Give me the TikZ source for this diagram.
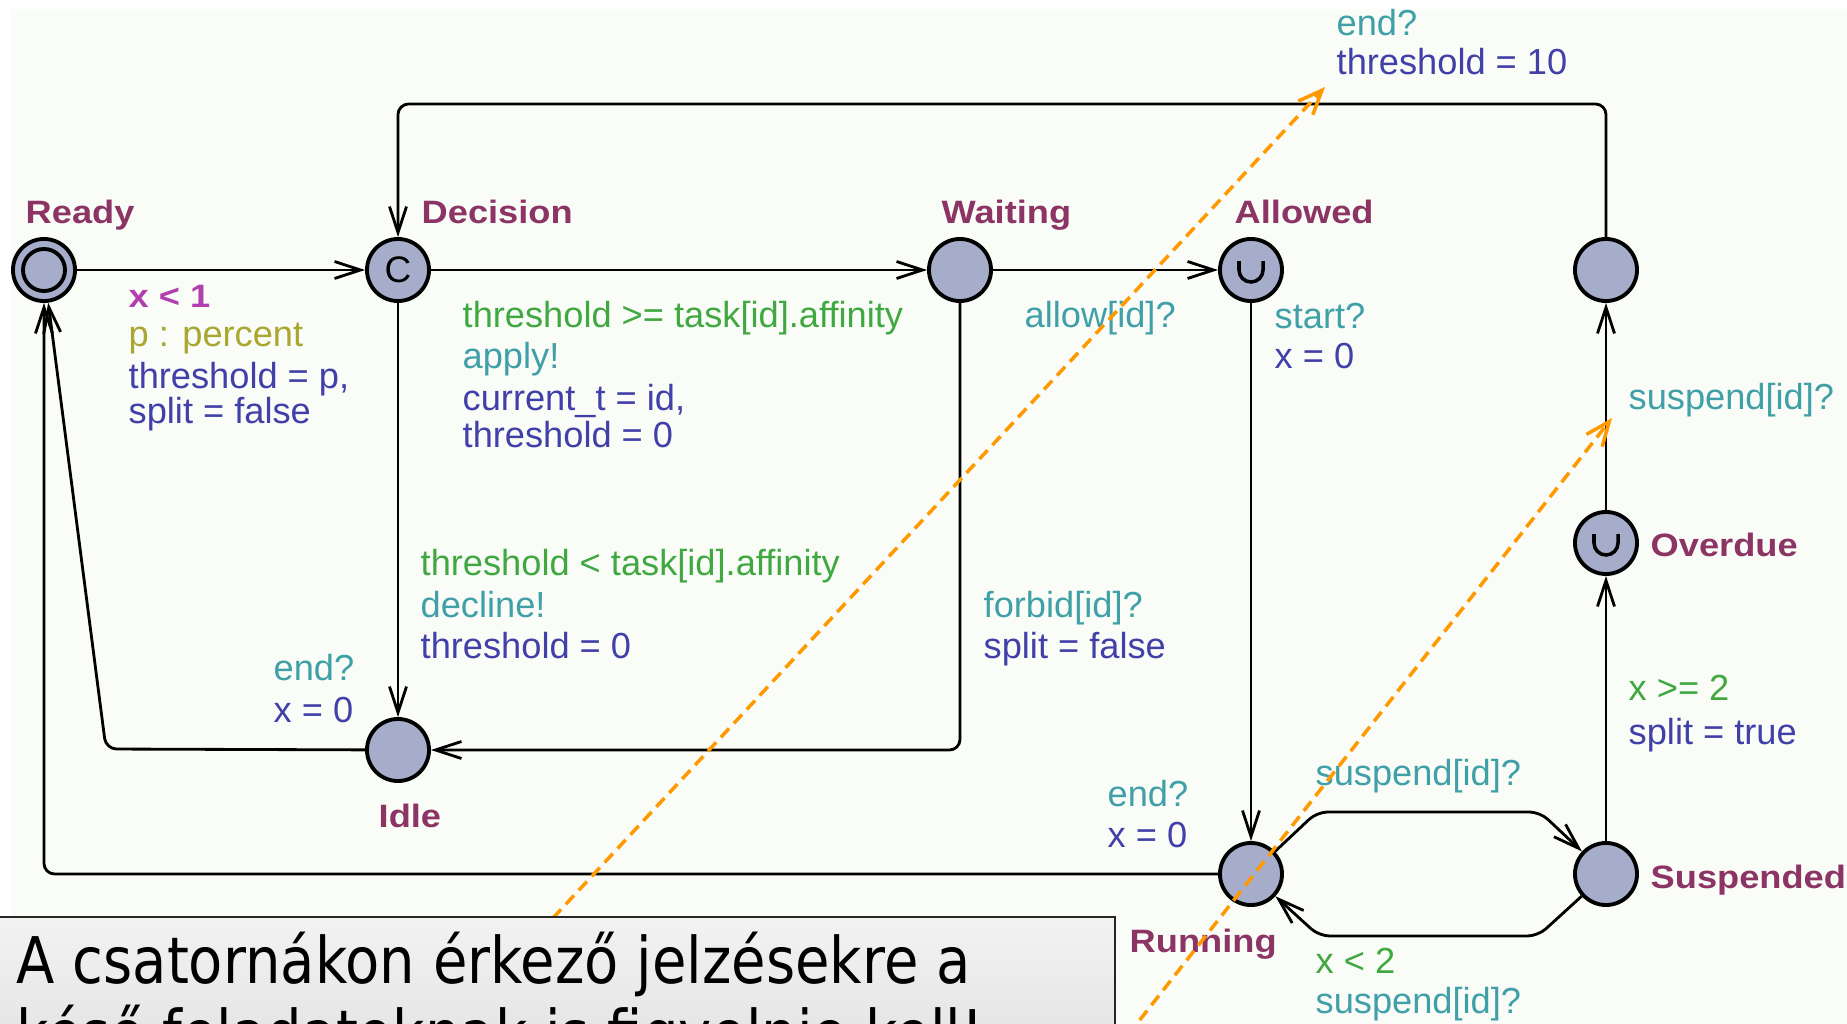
\documentclass[tikz,border=0pt]{standalone}
\usepackage{fontspec}
\setmainfont{Liberation Sans}
\newfontfamily\locfont[FakeStretch=1.12]{Liberation Sans}
\newfontfamily\notefont[FakeStretch=0.87]{DejaVu Sans}
\usetikzlibrary{arrows.meta}

\definecolor{panelc}{RGB}{250,252,248}
\definecolor{locfill}{RGB}{165,173,203}
\definecolor{locname}{RGB}{140,52,100}
\definecolor{guardc}{RGB}{64,168,64}
\definecolor{syncc}{RGB}{64,160,168}
\definecolor{assignc}{RGB}{64,64,168}
\definecolor{selectc}{RGB}{168,168,48}
\definecolor{invc}{RGB}{176,64,176}
\definecolor{notec}{RGB}{255,153,0}

\tikzset{
	loc/.style={circle, draw, line width=1.1pt, fill=locfill, minimum size=0.62cm, inner sep=0pt},
	edge/.style={line width=0.8pt, rounded corners=3pt,
		-{Straight Barb[length=2.6mm,width=1.7mm,line width=0.8pt]}},
	lab/.style={anchor=base west, inner sep=0pt},
	locname/.style={lab, text=locname, font=\locfont\bfseries\fontsize{9.2}{10}\selectfont},
	guard/.style={lab, text=guardc},
	sync/.style={lab, text=syncc},
	assign/.style={lab, text=assignc},
	hint/.style={notec, line width=1pt, dash pattern=on 3.4pt off 2pt,
		-{Straight Barb[length=2.4mm,width=2mm,line width=1pt]}}
}

\begin{document}
\begin{tikzpicture}[
	x=0.01cm,
	y=-0.01cm,
	font=\fontsize{10.3}{10}\selectfont
	]
	\useasboundingbox (0,0) rectangle (1847,1024);
	\clip (0,0) rectangle (1847,1024);
	\fill[white] (0,0) rectangle (1847,1024);
	\fill[panelc] (11,9) rectangle (1847,1024);

	% --- locations ---
	\node[loc] (ready) at (44,270) {};
	\draw[line width=1.1pt] (ready) circle[radius=0.21cm];
	\node[loc, font=\fontsize{10.5}{10.5}\selectfont] (decision) at (398,270) {C};
	\node[loc] (waiting) at (960,270) {};
	\node[loc] (allowed) at (1251,270) {};
	\node[loc] (topr) at (1606,270) {};
	\node[loc] (overdue) at (1606,543) {};
	\node[loc] (suspended) at (1606,874) {};
	\node[loc] (running) at (1251,874) {};
	\node[loc] (idle) at (398,750) {};

	% urgent marks
	\foreach \nm in {allowed, overdue} {
		\draw[line width=1pt] ([shift={(-12,-9)}]\nm.center) -- ++(0,9)
			arc[start angle=180, end angle=360, radius=0.12cm] -- ++(0,-9);
	}

	\foreach \nm/\x/\y/\txt in {ready/25/223/Ready, decision/421/223/Decision,
		waiting/941/223/Waiting, allowed/1234/223/Allowed, overdue/1650/556/Overdue,
		suspended/1650/888/Suspended, running/1129/952/Running, idle/378/827/Idle} {
		\node[locname] (n-\nm) at (\x,\y) {\txt};
	}

	% --- bend points ---
	\coordinate (topline) at (0,104);
	\coordinate (idlebend) at (106,749);
	\coordinate (up1) at (1317,812);
	\coordinate (up2) at (1540,812);
	\coordinate (lo1) at (1538,936);
	\coordinate (lo2) at (1319,936);

	% --- edges ---
	\draw[edge] (ready) -- (decision);
	\draw[edge] (decision) -- (waiting);
	\draw[edge] (waiting) -- (allowed);
	\draw[edge] (allowed) -- (running);
	\draw[edge] (decision) -- (idle);
	\draw[edge] (waiting.south) -- (waiting |- idle) -- (idle);
	\draw[edge] (idle) -- (idlebend) -- (ready);
	\draw[edge] (running) -| (ready);
	\draw[edge] (topr.north) -- (topr |- topline) -- (decision |- topline) -- (decision.north);
	\draw[edge] (running) -- (up1) -- (up2) -- (suspended);
	\draw[edge] (suspended) -- (lo1) -- (lo2) -- (running);
	\draw[edge] (suspended) -- (overdue);
	\draw[edge] (overdue) -- (topr);

	% --- edge labels ---
	\node[lab, text=invc, font=\locfont\bfseries\fontsize{9.2}{10}\selectfont] (inv1) at (128,307) {x < 1};
	\node[lab, text=selectc] (sel1) at (128,347) {p : percent};
	\node[assign] (as1a) at (128,388) {threshold = p,};
	\node[assign] (as1b) at (128,423) {split = false};

	\node[guard] (gd2) at (462,327) {threshold >= task[id].affinity};
	\node[sync] (sy2) at (462,368) {apply!};
	\node[assign] (as2a) at (462,410) {current\_t = id,};
	\node[assign] (as2b) at (462,447) {threshold = 0};

	\node[sync] (sy3) at (1024,327) {allow[id]?};
	\node[sync] (sy4) at (1274,328) {start?};
	\node[assign] (as4) at (1274,368) {x = 0};

	\node[sync] (sy5) at (1336,35) {end?};
	\node[assign] (as5) at (1336,74) {threshold = 10};

	\node[sync] (sy6) at (1628,409) {suspend[id]?};
	\node[guard] (gd7) at (1628,700) {x >= 2};
	\node[assign] (as7) at (1628,744) {split = true};

	\node[guard] (gd8) at (420,575) {threshold < task[id].affinity};
	\node[sync] (sy8) at (420,617) {decline!};
	\node[assign] (as8) at (420,658) {threshold = 0};

	\node[sync] (sy9) at (983,617) {forbid[id]?};
	\node[assign] (as9) at (983,658) {split = false};

	\node[sync] (sy10) at (273,680) {end?};
	\node[assign] (as10) at (273,722) {x = 0};

	\node[sync] (sy11) at (1107,806) {end?};
	\node[assign] (as11) at (1107,847) {x = 0};

	\node[sync] (sy12) at (1315,785) {suspend[id]?};
	\node[guard] (gd13) at (1315,973) {x < 2};
	\node[sync] (sy13) at (1315,1013) {suspend[id]?};

	% --- hint arrows and note ---
	\coordinate (h1from) at (540,932);
	\coordinate (h1to) at (1325,87);
	\coordinate (h2from) at (1128,1035);
	\coordinate (h2to) at (1612,418);
	\draw[hint] (h1from) -- (h1to);
	\draw[hint] (h2from) -- (h2to);

	\shade[top color=black!5, bottom color=black!13, draw=black!85, line width=0.8pt]
		(-10,917) rectangle (1115,1100);
	\node[lab, font=\notefont\fontsize{18.3}{22}\selectfont] (note1) at (16,983)
		{A csatornákon érkező jelzésekre a};
	\node[lab, font=\notefont\fontsize{18.3}{22}\selectfont] (note2) at (16,1056)
		{késő feladatoknak is figyelnie kell!};
\end{tikzpicture}
\end{document}
